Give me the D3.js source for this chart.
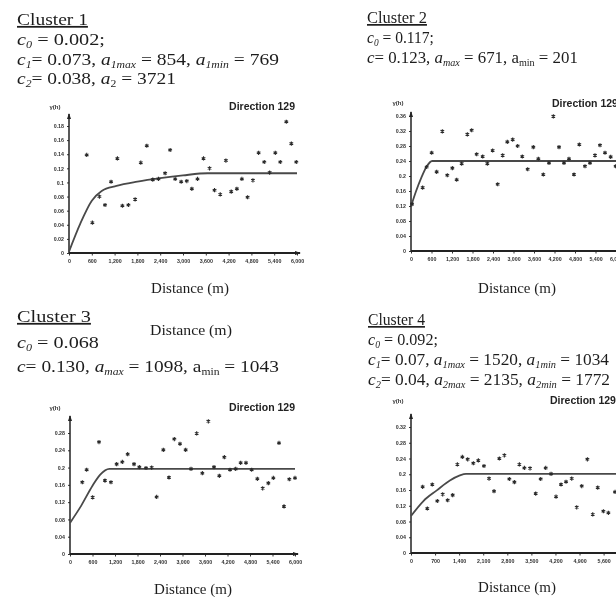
<!DOCTYPE html>
<html>
<head>
<meta charset="utf-8">
<script src="https://cdn.jsdelivr.net/npm/d3@7"></script>
<style>
  body { margin: 0; background: #fff; }
  svg { display: block; }
  .head { font-family: "Liberation Serif", "Times New Roman", serif; fill: #1e1e1e; }
  .tick text { font-family: "Liberation Sans", Arial, sans-serif; font-weight: bold; font-size: 5.3px; fill: #333; }
  .tick line { stroke: #333; }
  .dir { font-family: "Liberation Sans", Arial, sans-serif; font-weight: bold; font-size: 10.5px; fill: #222; }
  .glabel { font-family: "Liberation Sans", Arial, sans-serif; font-weight: bold; font-size: 6px; fill: #333; }
</style>
</head>
<body>
<script>
// Tick values for each panel
const xTicks6000 = [0, 600, 1200, 1800, 2400, 3000, 3600, 4200, 4800, 5400, 6000];
const xTicks700 = [0, 700, 1400, 2100, 2800, 3500, 4200, 4900, 5600, 6300];
const yTicks1 = [0, 0.02, 0.04, 0.06, 0.08, 0.1, 0.12, 0.14, 0.16, 0.18];
const yTicks2 = [0, 0.04, 0.08, 0.12, 0.16, 0.2, 0.24, 0.28, 0.32, 0.36];
const yTicks3 = [0, 0.04, 0.08, 0.12, 0.16, 0.2, 0.24, 0.28];
const yTicks4 = [0, 0.04, 0.08, 0.12, 0.16, 0.2, 0.24, 0.28, 0.32];

const c1Dist = [466, 615, 800, 949, 1107, 1274, 1405, 1564, 1740, 1889, 2047, 2205, 2354, 2530, 2662, 2794, 2952, 3101, 3233, 3382, 3540, 3698, 3830, 3980, 4129, 4269, 4418, 4550, 4700, 4840, 4990, 5139, 5280, 5429, 5561, 5719, 5851, 5982];
const c1Gamma = [0.139, 0.043, 0.080, 0.068, 0.101, 0.134, 0.067, 0.068, 0.076, 0.128, 0.152, 0.104, 0.105, 0.113, 0.146, 0.105, 0.101, 0.102, 0.091, 0.105, 0.134, 0.120, 0.089, 0.083, 0.131, 0.087, 0.091, 0.105, 0.079, 0.103, 0.142, 0.129, 0.114, 0.142, 0.129, 0.186, 0.155, 0.129];

const c2Dist = [30, 341, 459, 605, 751, 917, 1063, 1210, 1337, 1483, 1649, 1776, 1922, 2098, 2234, 2390, 2537, 2683, 2819, 2976, 3122, 3258, 3415, 3580, 3727, 3873, 4039, 4166, 4332, 4478, 4624, 4771, 4927, 5093, 5239, 5385, 5532, 5678, 5844, 5990];
const c2Gamma = [0.125, 0.169, 0.224, 0.262, 0.211, 0.319, 0.202, 0.221, 0.190, 0.233, 0.311, 0.322, 0.258, 0.252, 0.233, 0.268, 0.178, 0.255, 0.291, 0.297, 0.280, 0.252, 0.218, 0.277, 0.246, 0.204, 0.235, 0.359, 0.277, 0.235, 0.246, 0.204, 0.284, 0.226, 0.235, 0.255, 0.282, 0.262, 0.251, 0.226];

const c3Dist = [329, 444, 604, 773, 933, 1093, 1244, 1396, 1538, 1707, 1849, 2027, 2178, 2311, 2489, 2640, 2782, 2933, 3084, 3227, 3378, 3529, 3689, 3840, 3982, 4116, 4267, 4418, 4551, 4693, 4844, 4996, 5138, 5289, 5422, 5573, 5707, 5849, 6000];
const c3Gamma = [0.166, 0.195, 0.131, 0.259, 0.170, 0.166, 0.208, 0.213, 0.231, 0.208, 0.201, 0.199, 0.200, 0.132, 0.241, 0.177, 0.266, 0.255, 0.241, 0.197, 0.279, 0.187, 0.307, 0.201, 0.181, 0.224, 0.195, 0.197, 0.211, 0.211, 0.195, 0.174, 0.152, 0.164, 0.176, 0.257, 0.110, 0.173, 0.176];

const c4Dist = [339, 475, 620, 766, 921, 1066, 1212, 1348, 1493, 1648, 1813, 1958, 2123, 2269, 2414, 2569, 2715, 2860, 3006, 3151, 3297, 3461, 3626, 3771, 3917, 4072, 4217, 4363, 4508, 4673, 4818, 4964, 5129, 5284, 5429, 5594, 5739, 5933];
const c4Gamma = [0.168, 0.113, 0.174, 0.132, 0.149, 0.134, 0.147, 0.225, 0.244, 0.238, 0.228, 0.235, 0.221, 0.189, 0.157, 0.240, 0.248, 0.188, 0.180, 0.225, 0.216, 0.215, 0.151, 0.188, 0.216, 0.201, 0.143, 0.174, 0.181, 0.189, 0.116, 0.170, 0.238, 0.098, 0.166, 0.106, 0.102, 0.155];

// Fitted model curves, vertices
const m1Dist = [0, 300, 600, 860, 1250, 1800, 2400, 3000, 3650, 6000];
const m1Gamma = [0.002, 0.042, 0.074, 0.088, 0.095, 0.101, 0.106, 0.110, 0.113, 0.113];
const m2Dist = [0, 150, 300, 450, 620, 6000];
const m2Gamma = [0.119, 0.160, 0.195, 0.224, 0.240, 0.240];
const m3Dist = [0, 300, 600, 800, 1050, 6000];
const m3Gamma = [0.072, 0.112, 0.158, 0.183, 0.197, 0.197];
const m4Dist = [0, 360, 750, 1130, 1420, 1600, 6300];
const m4Gamma = [0.094, 0.132, 0.159, 0.184, 0.197, 0.201, 0.201];

// Header texts: [text, style] segments, style "i" italic, "sub" subscript
const head1 = [
  [["c", "i"], ["0", "isub"], [" = 0.002;", ""]],
  [["c", "i"], ["1", "isub"], ["= 0.073, ", ""], ["a", "i"], ["1max", "isub"], [" = 854, ", ""], ["a", "i"], ["1min", "isub"], [" = 769", ""]],
  [["c", "i"], ["2", "isub"], ["= 0.038, ", ""], ["a", "i"], ["2", "sub"], [" = 3721", ""]]
];
const head2 = [
  [["c", "i"], ["0", "isub"], [" = 0.117;", ""]],
  [["c", "i"], ["= 0.123, ", ""], ["a", "i"], ["max", "isub"], [" = 671, a", ""], ["min", "sub"], [" = 201", ""]]
];
const head3 = [
  [["c", "i"], ["0", "isub"], [" = 0.068", ""]],
  [["c", "i"], ["= 0.130, ", ""], ["a", "i"], ["max", "isub"], [" = 1098, a", ""], ["min", "sub"], [" = 1043", ""]]
];
const head4 = [
  [["c", "i"], ["0", "isub"], [" = 0.092;", ""]],
  [["c", "i"], ["1", "isub"], ["= 0.07, ", ""], ["a", "i"], ["1max", "isub"], [" = 1520, ", ""], ["a", "i"], ["1min", "isub"], [" = 1034", ""]],
  [["c", "i"], ["2", "isub"], ["= 0.04, ", ""], ["a", "i"], ["2max", "isub"], [" = 2135, ", ""], ["a", "i"], ["2min", "isub"], [" = 1772", ""]]
];

const svg = d3.select("body").append("svg")
  .attr("width", 616)
  .attr("height", 597);

// slight softening, the source is a scan
svg.append("defs").append("filter").attr("id", "soft")
  .append("feGaussianBlur").attr("stdDeviation", 0.35);

const root = svg.append("g").attr("filter", "url(#soft)");

// squeeze or stretch a text horizontally so it spans the given width
function fitWidth(t, x, width) {
  const w = t.node().getComputedTextLength();
  if (w > 0) t.attr("transform", `translate(${x},0) scale(${width / w},1) translate(${-x},0)`);
}

function writeLine(x, y, segs, size, width) {
  const t = root.append("text").attr("class", "head")
    .attr("x", x).attr("y", y).style("font-size", size + "px");
  let down = false;
  segs.forEach(([s, st]) => {
    const sub = st.includes("sub");
    const ts = t.append("tspan").text(s);
    if (st.includes("i")) ts.style("font-style", "italic");
    if (sub) ts.style("font-size", (size * 0.6) + "px");
    if (sub && !down) { ts.attr("dy", 3); down = true; }
    else if (!sub && down) { ts.attr("dy", -3); down = false; }
  });
  fitWidth(t, x, width);
}

function writeBlock(x, title, titleY, titleW, lines, lineYs, widths, size) {
  const t = root.append("text").attr("class", "head")
    .attr("x", x).attr("y", titleY)
    .style("font-size", size + "px")
    .style("text-decoration", "underline")
    .text(title);
  fitWidth(t, x, titleW);
  lines.forEach((segs, i) => writeLine(x, lineYs[i], segs, size, widths[i]));
}

writeBlock(17, "Cluster 1", 25, 71, head1, [45, 65, 84], [88, 262, 159], 17.5);
writeBlock(367, "Cluster 2", 23, 60, head2, [43, 63], [67, 211], 17);
writeBlock(17, "Cluster 3", 322, 74, head3, [348, 372], [82, 262], 17.5);
writeBlock(368, "Cluster 4", 325, 57, head4, [345, 365, 385], [70, 241, 242], 16.5);

const d3lab = root.append("text").attr("class", "head")
  .attr("x", 150).attr("y", 335)
  .style("font-size", "14.5px")
  .text("Distance (m)");
fitWidth(d3lab, 150, 82);

// Panel layout
const panels = [
  { dist: c1Dist, gamma: c1Gamma, mDist: m1Dist, mGamma: m1Gamma,
    xDom: 6000, xRange: [69, 297], yDom: 0.18, yRange: [253, 126], yTop: 114, xEnd: 300,
    xTicks: xTicks6000, yTicks: yTicks1, gl: [55, 109], dir: [295, 110, "end"], dl: [190, 293] },
  { dist: c2Dist, gamma: c2Gamma, mDist: m2Dist, mGamma: m2Gamma,
    xDom: 6000, xRange: [411, 616], yDom: 0.36, yRange: [251, 116], yTop: 112, xEnd: 630,
    xTicks: xTicks6000, yTicks: yTicks2, gl: [398, 105], dir: [552, 107, "start"], dl: [517, 293] },
  { dist: c3Dist, gamma: c3Gamma, mDist: m3Dist, mGamma: m3Gamma,
    xDom: 6000, xRange: [70, 295], yDom: 0.28, yRange: [554, 433], yTop: 416, xEnd: 298,
    xTicks: xTicks6000, yTicks: yTicks3, gl: [55, 410], dir: [295, 411, "end"], dl: [193, 594] },
  { dist: c4Dist, gamma: c4Gamma, mDist: m4Dist, mGamma: m4Gamma,
    xDom: 5600, xRange: [411, 603.6], yDom: 0.32, yRange: [553, 427], yTop: 414, xEnd: 630,
    xTicks: xTicks700, yTicks: yTicks4, gl: [398, 403], dir: [550, 404, "start"], dl: [517, 592] }
];

const star = d3.symbol().type(d3.symbolAsterisk).size(12);

panels.forEach(p => {
  const x = d3.scaleLinear().domain([0, p.xDom]).range(p.xRange);
  const y = d3.scaleLinear().domain([0, p.yDom]).range(p.yRange);
  const g = root.append("g");

  // x axis
  const xAxis = d3.axisBottom(x)
    .tickValues(p.xTicks)
    .tickSize(2.5)
    .tickFormat(d3.format(","));
  const gx = g.append("g")
    .attr("transform", `translate(0, ${y(0)})`)
    .call(xAxis);
  gx.select(".domain").remove();
  gx.selectAll(".tick text").attr("dy", "0.9em");

  // y axis
  const yAxis = d3.axisLeft(y)
    .tickValues(p.yTicks)
    .tickSize(2)
    .tickFormat(d => String(d));
  const gy = g.append("g")
    .attr("transform", `translate(${x(0)}, 0)`)
    .call(yAxis);
  gy.select(".domain").remove();

  // axis lines with arrow heads
  g.append("line")
    .attr("x1", x(0)).attr("x2", p.xEnd)
    .attr("y1", y(0)).attr("y2", y(0))
    .attr("stroke", "#222").attr("stroke-width", 2);
  g.append("line")
    .attr("x1", x(0)).attr("x2", x(0))
    .attr("y1", y(0)).attr("y2", p.yTop)
    .attr("stroke", "#222").attr("stroke-width", 1.5);
  g.append("path")
    .attr("d", `M${x(0) - 2},${p.yTop + 5}L${x(0)},${p.yTop - 1}L${x(0) + 2},${p.yTop + 5}Z`)
    .attr("fill", "#222");
  g.append("path")
    .attr("d", `M${p.xEnd - 5},${y(0) - 2}L${p.xEnd + 1},${y(0)}L${p.xEnd - 5},${y(0) + 2}Z`)
    .attr("fill", "#222");

  // model curve
  const line = d3.line()
    .x(d => x(d))
    .y((d, i) => y(p.mGamma[i]))
    .curve(d3.curveMonotoneX);
  g.append("path")
    .attr("d", line(p.mDist))
    .attr("fill", "none")
    .attr("stroke", "#4a4a4a")
    .attr("stroke-width", 1.8);

  // experimental points
  g.selectAll(".pt")
    .data(p.dist)
    .join("path")
    .attr("class", "pt")
    .attr("transform", (d, i) => `translate(${x(d)}, ${y(p.gamma[i])})`)
    .attr("d", star)
    .attr("fill", "none")
    .attr("stroke", "#2a2a2a")
    .attr("stroke-width", 1.1);

  // labels
  g.append("text").attr("class", "glabel")
    .attr("x", p.gl[0]).attr("y", p.gl[1])
    .attr("text-anchor", "middle")
    .text("γ(h)");
  g.append("text").attr("class", "dir")
    .attr("x", p.dir[0]).attr("y", p.dir[1])
    .attr("text-anchor", p.dir[2])
    .text("Direction 129");
  g.append("text").attr("class", "head")
    .attr("x", p.dl[0]).attr("y", p.dl[1])
    .attr("text-anchor", "middle")
    .style("font-size", "15px")
    .text("Distance (m)");
});
</script>
</body>
</html>
